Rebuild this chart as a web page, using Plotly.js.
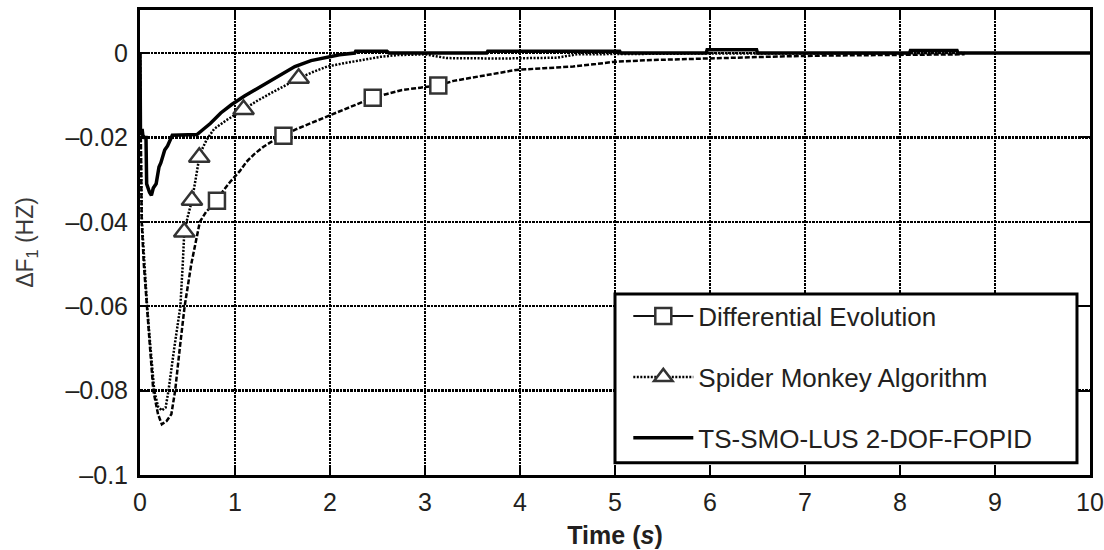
<!DOCTYPE html>
<html>
<head>
<meta charset="utf-8">
<script src="https://cdn.plot.ly/plotly-3.0.1.min.js"></script>
<style>html,body{margin:0;padding:0;background:#fff;}#chart{width:1104px;height:550px;}</style>
</head>
<body>
<div id="chart"></div>
<script>
// ---- Data ----
const seriesNames = ["Differential Evolution", "Spider Monkey Algorithm", "TS-SMO-LUS 2-DOF-FOPID"];

const deX = [0, 0.005, 0.018, 0.04, 0.07, 0.105, 0.14, 0.19, 0.23, 0.28, 0.33, 0.37, 0.42, 0.47, 0.54, 0.63, 0.70, 0.75, 0.81, 0.88, 0.95, 1.05, 1.12, 1.20, 1.30, 1.40, 1.51, 1.65, 1.80, 1.95, 2.10, 2.25, 2.45, 2.60, 2.75, 2.95, 3.14, 3.30, 3.50, 3.75, 3.96, 4.25, 4.56, 4.80, 4.98, 5.33, 5.60, 5.90, 6.20, 6.50, 6.75, 7.20, 7.70, 8.20, 8.68];
const deY = [0, -0.02, -0.04, -0.05, -0.06, -0.0697, -0.08, -0.0856, -0.088, -0.0872, -0.0856, -0.08, -0.0697, -0.06, -0.05, -0.04, -0.0375, -0.0365, -0.035, -0.0325, -0.0305, -0.028, -0.0258, -0.024, -0.0222, -0.0208, -0.0196, -0.018, -0.0166, -0.0152, -0.0138, -0.0125, -0.0106, -0.0097, -0.0088, -0.0082, -0.0077, -0.0066, -0.0058, -0.0048, -0.004, -0.0036, -0.0032, -0.0026, -0.0021, -0.0017, -0.0015, -0.0013, -0.0011, -0.0009, -0.0008, -0.0006, -0.0005, -0.0004, -0.0003];
const deMarkX = [0.81, 1.51, 2.45, 3.14];
const deMarkY = [-0.035, -0.0196, -0.0106, -0.0077];

const smaX = [0, 0.006, 0.02, 0.045, 0.075, 0.11, 0.15, 0.19, 0.23, 0.27, 0.30, 0.36, 0.425, 0.45, 0.466, 0.50, 0.547, 0.585, 0.624, 0.66, 0.70, 0.78, 0.91, 1.09, 1.22, 1.37, 1.52, 1.67, 1.82, 1.97, 2.15, 2.32, 2.53, 2.70, 3.0, 3.23, 3.5, 3.8, 4.1, 4.39, 4.6, 5.0, 6.0, 7.0, 8.0, 8.68];
const smaY = [0, -0.02, -0.04, -0.05, -0.06, -0.0697, -0.08, -0.0838, -0.0847, -0.084, -0.08, -0.07, -0.06, -0.05, -0.0424, -0.039, -0.0349, -0.03, -0.0247, -0.0225, -0.0206, -0.018, -0.0159, -0.0134, -0.0115, -0.0096, -0.0078, -0.006, -0.0045, -0.0032, -0.0024, -0.0017, -0.0009, -0.0005, -0.0003, -0.0012, -0.0013, -0.0013, -0.0012, -0.0011, -0.0003, -0.0002, -0.0001, -0.0001, 0, 0];
const smaMarkX = [0.466, 0.547, 0.624, 1.09, 1.67];
const smaMarkY = [-0.0424, -0.0349, -0.0247, -0.0134, -0.006];

const tsX = [0, 0.005, 0.015, 0.022, 0.03, 0.045, 0.063, 0.07, 0.1, 0.12, 0.14, 0.17, 0.2, 0.22, 0.26, 0.29, 0.34, 0.45, 0.6, 0.67, 0.74, 0.85, 0.965, 1.1, 1.28, 1.45, 1.63, 1.8, 1.97, 2.1, 2.26, 2.27, 2.6, 2.62, 3.65, 3.66, 5.05, 5.06, 5.96, 5.97, 6.49, 6.5, 8.1, 8.11, 8.6, 8.61, 10];
const tsY = [0, -0.019, -0.0185, -0.018, -0.0195, -0.02, -0.02, -0.031, -0.033, -0.0337, -0.032, -0.031, -0.027, -0.026, -0.023, -0.022, -0.0195, -0.0195, -0.0193, -0.018, -0.0167, -0.0142, -0.0122, -0.0102, -0.0078, -0.0055, -0.0032, -0.0018, -0.0009, -0.0004, 0, 0.0004, 0.0004, 0, 0, 0.0004, 0.0004, 0, 0, 0.0008, 0.0008, 0, 0, 0.0006, 0.0006, 0, 0];

const xTickVals = [0, 1, 2, 3, 4, 5, 6, 7, 8, 9, 10];
const yTickVals = [0, -0.02, -0.04, -0.06, -0.08, -0.1];
const yTickText = ["0", "\u20130.02", "\u20130.04", "\u20130.06", "\u20130.08", "\u20130.1"];

// ---- Styling ----
const FONT = "Liberation Sans, Arial, sans-serif";
const TXT = "#231f20";
const deLine = {color: "#000", width: 2.5, dash: "5px,2px"};
const smaLine = {color: "#000", width: 2.5, dash: "2px,1.5px"};
const tsLine = {color: "#000", width: 3.5};
const sqMarker = {symbol: "square", size: 16, color: "#fff", line: {color: "#333", width: 2.5}};
const triMarker = {symbol: "triangle-up", size: 18, color: "#fff", line: {color: "#333", width: 2.5}};

const traces = [
  {x: deX, y: deY, mode: "lines", line: deLine, showlegend: false, hoverinfo: "skip", legendgroup: "a"},
  {x: smaX, y: smaY, mode: "lines", line: smaLine, showlegend: false, hoverinfo: "skip", legendgroup: "b"},
  {x: tsX, y: tsY, mode: "lines", line: tsLine, showlegend: false, hoverinfo: "skip", legendgroup: "c"},
  {x: deMarkX, y: deMarkY, mode: "markers", marker: sqMarker, showlegend: false, hoverinfo: "skip", legendgroup: "a"},
  {x: smaMarkX, y: smaMarkY, mode: "markers", marker: triMarker, showlegend: false, hoverinfo: "skip", legendgroup: "b"},
  // legend entries
  {x: [null], y: [null], name: seriesNames[0], mode: "lines+markers", line: {color: "#111", width: 2}, marker: sqMarker, legendgroup: "a"},
  {x: [null], y: [null], name: seriesNames[1], mode: "lines+markers", line: smaLine, marker: triMarker, legendgroup: "b"},
  {x: [null], y: [null], name: seriesNames[2], mode: "lines", line: tsLine, legendgroup: "c"}
];

const axisCommon = {
  showline: true, linecolor: "#000", linewidth: 3, mirror: "ticks",
  ticks: "inside", ticklen: 10, tickwidth: 2, tickcolor: "#000",
  showgrid: true, gridcolor: "#000", gridwidth: 2.5, griddash: "2.5px,1px",
  zeroline: false, tickfont: {family: FONT, size: 25, color: TXT}
};

const layout = {
  width: 1104, height: 550,
  margin: {l: 140, r: 14, t: 10, b: 75},
  paper_bgcolor: "#fff", plot_bgcolor: "#fff",
  font: {family: FONT, color: TXT},
  xaxis: Object.assign({}, axisCommon, {
    range: [0, 10], tickvals: xTickVals, ticklabelstandoff: 3,
    title: {text: "<b>Time (<i>s</i>)</b>", font: {family: FONT, size: 25, color: TXT}, standoff: 12}
  }),
  yaxis: Object.assign({}, axisCommon, {
    range: [-0.1, 0.0102], tickvals: yTickVals, ticktext: yTickText, ticklabelstandoff: 4,
    title: {text: "\u0394F<sub>1</sub> (HZ)", font: {family: FONT, size: 23, color: "#3a3a3a"}, standoff: 26}
  }),
  showlegend: true,
  legend: {
    x: 0.514, y: 0.392, xanchor: "left", yanchor: "top",
    bgcolor: "rgba(0,0,0,0)", borderwidth: 0,
    font: {family: FONT, size: 26, color: TXT},
    itemwidth: 60, tracegroupgap: 24, traceorder: "grouped"
  },
  shapes: [{
    type: "rect", xref: "paper", yref: "paper", layer: "above",
    x0: 0.5, x1: 0.9863, y0: 0.0265, y1: 0.389,
    fillcolor: "#fff", line: {color: "#000", width: 3}
  }]
};

Plotly.newPlot("chart", traces, layout, {staticPlot: true, displayModeBar: false});
</script>
</body>
</html>
